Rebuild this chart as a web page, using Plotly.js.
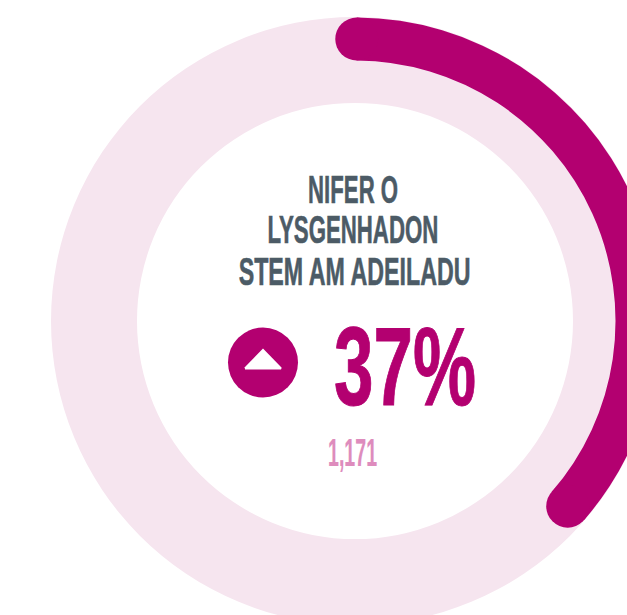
<!DOCTYPE html>
<html><head><meta charset="utf-8">
<script src="https://cdn.plot.ly/plotly-3.0.1.min.js"></script>
<style>html,body{margin:0;padding:0;background:#fff;overflow:hidden;width:627px;height:615px}</style>
</head><body><div id="chart"></div>
<script>
const progressStart = 0.1;
const progressEnd = 36.4;
const titleLines = ["NIFER O", "LYSGENHADON", "STEM AM ADEILADU"];
const percentLabel = "37%";
const countLabel = "1,171";
const arrowX = [245, 263, 281, 245];
const arrowY = [368.5, 350, 368.5, 368.5];
const MAGENTA = "#b30070", PINK = "#f6e5ef", TEXT = "#4c5b66", LIGHT = "#de8cbd";
const W = 710, H = 642;
const F = "'Liberation Sans',sans-serif";
const startDeg = progressStart * 3.6, endDeg = progressEnd * 3.6;
const data = [
 {type:"barpolar",r:[86],base:[218],theta:[180],width:[360],marker:{color:PINK,line:{width:0}},hoverinfo:"skip",showlegend:false},
 {type:"barpolar",r:[43],base:[260.5],theta:[(startDeg+endDeg)/2],width:[endDeg-startDeg],marker:{color:MAGENTA,line:{width:0}},hoverinfo:"skip",showlegend:false},
 {type:"scatterpolar",r:[282,282],theta:[startDeg,endDeg],mode:"markers",marker:{color:MAGENTA,size:43,line:{width:0}},hoverinfo:"skip",showlegend:false},
 {type:"scatter",x:[263],y:[362.5],mode:"markers",marker:{color:MAGENTA,size:70,line:{width:0}},hoverinfo:"skip",showlegend:false},
 {type:"scatter",x:arrowX,y:arrowY,mode:"lines",fill:"toself",fillcolor:"#fff",line:{color:"#fff",width:2},hoverinfo:"skip",showlegend:false}
];
const texts = [
 {t:titleLines[0],x:353,y:189,size:39,w:90,c:TEXT,sw:0.6},
 {t:titleLines[1],x:353,y:229,size:39,w:171,c:TEXT,sw:0.6},
 {t:titleLines[2],x:354,y:271,size:39,w:232,c:TEXT,sw:0.6},
 {t:percentLabel,x:405,y:366,size:112,w:142,c:MAGENTA,sw:1},
 {t:countLabel,x:352,y:453,size:38,w:49,c:LIGHT,sw:0.2}
];
const layout = {width:W,height:H,margin:{l:0,r:0,t:0,b:0},paper_bgcolor:"#fff",plot_bgcolor:"rgba(0,0,0,0)",showlegend:false,
 xaxis:{range:[0,W],visible:false,fixedrange:true},
 yaxis:{range:[H,0],visible:false,fixedrange:true},
 polar:{domain:{x:[0,1],y:[0,1]},bgcolor:"rgba(0,0,0,0)",barmode:"overlay",
  radialaxis:{range:[0,321],visible:false},
  angularaxis:{rotation:90,direction:"clockwise",visible:false}},
 annotations:texts.map(a=>({text:a.t,x:a.x,y:a.y,xref:"x",yref:"y",showarrow:false,
   font:{family:F,size:a.size,weight:700,color:a.c}}))
};
Plotly.newPlot("chart",data,layout,{displayModeBar:false,staticPlot:true}).then(()=>{
 document.querySelectorAll("text.annotation-text").forEach((el,i)=>{
  const a = texts[i], b = el.getBBox();
  const cx = b.x + b.width/2, s = a.w / b.width;
  el.setAttribute("transform",`translate(${cx},0) scale(${s},1) translate(${-cx},0)`);
  el.style.stroke = a.c;
  el.style.strokeWidth = a.sw+"px";
 });
});
</script></body></html>
